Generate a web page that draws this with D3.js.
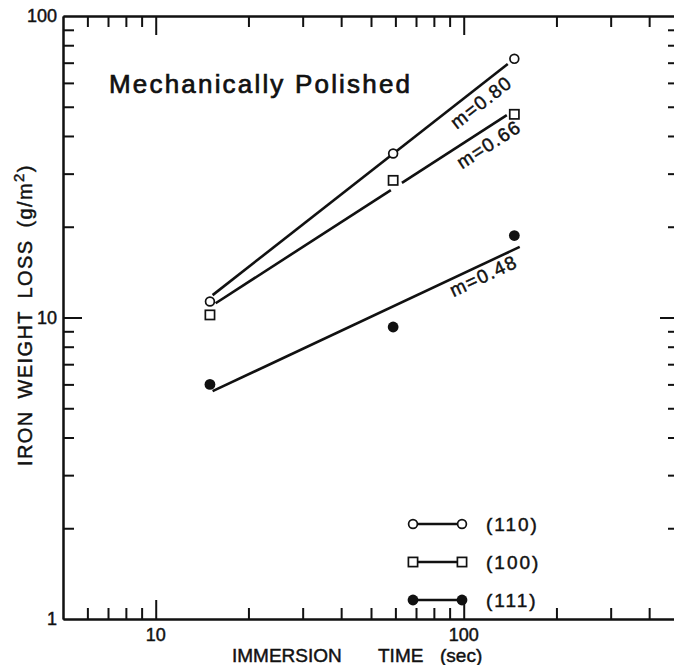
<!DOCTYPE html>
<html>
<head>
<meta charset="utf-8">
<script src="https://cdn.jsdelivr.net/npm/d3@7"></script>
<style>
  body { margin: 0; background: #fff; }
  svg { display: block; }
  text { font-family: "Liberation Sans", Arial, sans-serif; fill: #111; stroke: #111; stroke-width: 0.45px; }
</style>
</head>
<body>
<svg id="chart" width="674" height="665"></svg>
<script>
// Immersion time (s) and iron weight loss (g/m^2) for three grain orientations
const timeSec = [15, 59, 146];
const loss110 = [11.3, 35.0, 72.1];
const loss100 = [10.2, 28.5, 47.2];
const loss111 = [6.0, 9.3, 18.7];
const orientations = ["(110)", "(100)", "(111)"];

// Power-law fits W = k * t^m
const slopeM = [0.80, 0.66, 0.48];
const coefK = [1.338, 1.815, 1.538];
const fitSpans = [[[15.3, 139]], [[15.65, 58], [63, 138]], [[15.3, 152]]];

// Axis ticks
const xMajorTicks = [10, 100];
const xMinorTicks = [6, 7, 8, 9, 20, 30, 40, 50, 60, 70, 80, 90, 200, 300, 400];
const xTickLabels = ["10", "100"];
const yMajorTicks = [10];
const yMinorTicks = [2, 3, 4, 5, 6, 7, 8, 9, 20, 30, 40, 50, 60, 70, 80, 90];
const yLabelValues = [1, 10, 100];
const yTickLabels = ["1", "10", "100"];

const svg = d3.select("#chart");
const x = d3.scaleLog().domain([5, 500]).range([63, 679]);
const y = d3.scaleLog().domain([1, 100]).range([619, 16]);
const ink = "#111";

// Frame with ticks on all four sides, pointing inward
function addAxis(gen, tx, ty, values, len) {
  const g = svg.append("g").attr("transform", `translate(${tx},${ty})`)
    .call(gen.tickValues(values).tickSize(-len).tickSizeOuter(0).tickFormat(""));
  g.selectAll("path.domain").attr("stroke", ink).attr("stroke-width", 2);
  g.selectAll(".tick line").attr("stroke", ink).attr("stroke-width", 2);
  return g;
}
[[xMajorTicks, 19], [xMinorTicks, 11]].forEach(([v, l]) => {
  addAxis(d3.axisBottom(x), 0, y.range()[0], v, l);
  addAxis(d3.axisTop(x), 0, y.range()[1], v, l);
});
[[yMajorTicks, 19], [yMinorTicks, 11]].forEach(([v, l]) => {
  addAxis(d3.axisLeft(y), x.range()[0], 0, v, l);
  addAxis(d3.axisRight(y), x.range()[1], 0, v, l);
});

// Tick labels
svg.selectAll("text.xlab").data(xMajorTicks).join("text")
  .attr("class", "xlab").attr("x", d => x(d)).attr("y", 641)
  .attr("text-anchor", "middle").attr("font-size", 18)
  .text((d, i) => xTickLabels[i]);
svg.selectAll("text.ylab").data(yLabelValues).join("text")
  .attr("class", "ylab").attr("x", 57).attr("y", d => Math.max(y(d) + 6, 19))
  .attr("text-anchor", "end").attr("font-size", 18)
  .text((d, i) => yTickLabels[i]);

// Axis titles
const xt = svg.append("text").attr("y", 662).attr("font-size", 19);
[["IMMERSION", 232], ["TIME", 378], ["(sec)", 440]].forEach(([w, px]) =>
  xt.append("tspan").attr("x", px).text(w));

const yt = svg.append("text")
  .attr("transform", "translate(32,466) rotate(-90)")
  .attr("font-size", 20).attr("letter-spacing", 1.4).attr("word-spacing", 5);
yt.append("tspan").text("IRON WEIGHT LOSS (g/m");
yt.append("tspan").attr("dy", -8).attr("font-size", 15).text("2");
yt.append("tspan").attr("dy", 8).text(")");

svg.append("text").attr("x", 109).attr("y", 93)
  .attr("font-size", 26).attr("textLength", 301).attr("lengthAdjust", "spacing")
  .style("stroke-width", "0.7px")
  .text("Mechanically Polished");

// Fitted lines
const lineGen = d3.line().x(d => x(d[0])).y(d => y(d[1]));
fitSpans.forEach((spans, i) => {
  spans.forEach(([t0, t1]) => {
    const pts = [t0, t1].map(t => [t, coefK[i] * Math.pow(t, slopeM[i])]);
    svg.append("path").attr("d", lineGen(pts))
      .attr("fill", "none").attr("stroke", ink).attr("stroke-width", 2.6);
  });
});

// Slope labels along each fit
const labelAt = [107, 113.7, 112];
const labelDrop = [13.5, 14.5, 10.5];
slopeM.forEach((m, i) => {
  const t = labelAt[i];
  const f = tt => coefK[i] * Math.pow(tt, m);
  const x0 = x(t / 1.05), y0 = y(f(t / 1.05)), x1 = x(t * 1.05), y1 = y(f(t * 1.05));
  const ang = Math.atan2(y1 - y0, x1 - x0);
  const cx = x(t) - Math.sin(ang) * labelDrop[i];
  const cy = y(f(t)) + Math.cos(ang) * labelDrop[i];
  svg.append("text")
    .attr("transform", `translate(${cx},${cy}) rotate(${ang * 180 / Math.PI})`)
    .attr("text-anchor", "middle").attr("dy", "0.36em")
    .attr("font-size", 19).attr("letter-spacing", 1.4)
    .text(`m=${m.toFixed(2)}`);
});

// Markers
function drawMarker(sel, kind, px, py) {
  if (kind === "circle") {
    sel.append("circle").attr("cx", px).attr("cy", py).attr("r", 4.4)
      .attr("fill", "#fff").attr("stroke", ink).attr("stroke-width", 1.7);
  } else if (kind === "square") {
    sel.append("rect").attr("x", px - 4.6).attr("y", py - 4.6)
      .attr("width", 9.2).attr("height", 9.2)
      .attr("fill", "#fff").attr("stroke", ink).attr("stroke-width", 1.7);
  } else {
    sel.append("circle").attr("cx", px).attr("cy", py).attr("r", 5.4).attr("fill", ink);
  }
}
const markerKinds = ["circle", "square", "dot"];
[loss110, loss100, loss111].forEach((vals, i) => {
  vals.forEach((v, j) => drawMarker(svg, markerKinds[i], x(timeSec[j]), y(v)));
});

// Legend
const legendRows = [524, 562, 600];
orientations.forEach((name, i) => {
  const ly = legendRows[i];
  svg.append("line").attr("x1", 413).attr("x2", 462).attr("y1", ly).attr("y2", ly)
    .attr("stroke", ink).attr("stroke-width", 2.4);
  drawMarker(svg, markerKinds[i], 413, ly);
  drawMarker(svg, markerKinds[i], 462, ly);
  svg.append("text").attr("x", 486).attr("y", ly + 7)
    .attr("font-size", 19).attr("letter-spacing", 2).text(name);
});
</script>
</body>
</html>
